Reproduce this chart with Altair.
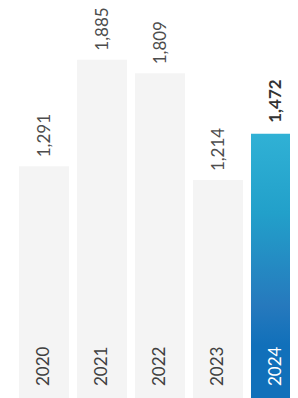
import altair as alt
import pandas as pd

years = ["2020", "2021", "2022", "2023", "2024"]
values = [1291, 1885, 1809, 1214, 1472]
highlight = [False, False, False, False, True]

df = pd.DataFrame({"year": years, "value": values, "hl": highlight})

FONT = "Lato"
FS = 17
W, H = 282, 390
x = alt.X("year:N", axis=None, sort=years,
          scale=alt.Scale(range=[0, 304], paddingInner=0.138, paddingOuter=0.19))
yscale = alt.Scale(domain=[0, 2173], nice=False)
y = alt.Y("value:Q", axis=None, scale=yscale)
y0 = alt.Y2(datum=0)

base = alt.Chart(df)

gray_bars = base.transform_filter("!datum.hl").mark_bar(color="#f4f4f4").encode(x=x, y=y, y2=y0)
blue_bar = base.transform_filter("datum.hl").mark_bar(
    color=alt.Gradient(
        gradient="linear", x1=0, x2=0, y1=0, y2=1,
        stops=[
            alt.GradientStop(color="#30b1d5", offset=0),
            alt.GradientStop(color="#22a0ca", offset=0.3),
            alt.GradientStop(color="#2679bd", offset=0.65),
            alt.GradientStop(color="#1170ba", offset=0.8),
            alt.GradientStop(color="#1170ba", offset=1),
        ],
    )
).encode(x=x, y=y, y2=y0)

yzero = alt.Y(datum=0, scale=yscale, axis=None)

year_gray = base.transform_filter("!datum.hl").mark_text(
    angle=270, align="left", baseline="middle", dx=12, dy=0,
    font=FONT, fontSize=FS, color="#404040"
).encode(x=x, y=yzero, text="year:N")
year_hl = base.transform_filter("datum.hl").mark_text(
    angle=270, align="left", baseline="middle", dx=12, dy=0,
    font=FONT, fontSize=FS, color="#ffffff"
).encode(x=x, y=yzero, text="year:N")

val_gray = base.transform_filter("!datum.hl").mark_text(
    angle=270, align="left", baseline="middle", dx=9, dy=1,
    font=FONT, fontSize=FS, color="#4d4d4d"
).encode(x=x, y=y, text=alt.Text("value:Q", format=","))
val_hl = base.transform_filter("datum.hl").mark_text(
    angle=270, align="left", baseline="middle", dx=11, dy=0,
    font=FONT, fontSize=FS, fontWeight="bold", color="#333333"
).encode(x=x, y=y, text=alt.Text("value:Q", format=","))

chart = alt.layer(gray_bars, blue_bar, year_gray, year_hl, val_gray, val_hl).properties(
    width=W, height=H, padding=0, autosize=alt.AutoSizeParams(type="none")
).configure_view(stroke=None)

chart.save("out.html", embed_options={"renderer": "svg", "actions": False})
